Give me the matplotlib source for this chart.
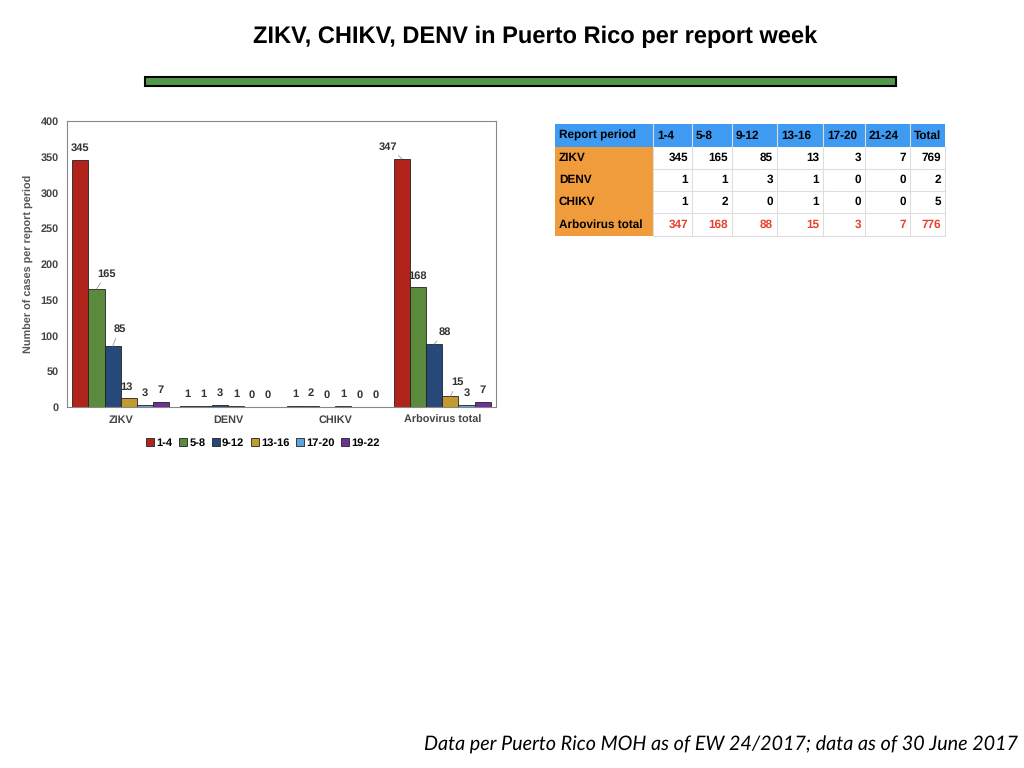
import matplotlib.pyplot as plt
from matplotlib.patches import Rectangle

plt.rcParams['font.family'] = ['Liberation Sans', 'DejaVu Sans']
plt.rcParams['text.hinting'] = 'no_hinting'

categories = ["ZIKV", "DENV", "CHIKV", "Arbovirus total"]
legend_periods = ["1-4", "5-8", "9-12", "13-16", "17-20", "19-22"]
p_1_4 = [345, 1, 1, 347]
p_5_8 = [165, 1, 2, 168]
p_9_12 = [85, 3, 0, 88]
p_13_16 = [13, 1, 1, 15]
p_17_20 = [3, 0, 0, 3]
p_19_22 = [7, 0, 0, 7]
series = [p_1_4, p_5_8, p_9_12, p_13_16, p_17_20, p_19_22]
colors = ["#B0241B", "#5B8A3C", "#27497A", "#C29A2E", "#5BA5DA", "#6E3096"]

table_periods = ["1-4", "5-8", "9-12", "13-16", "17-20", "21-24"]
table_rows = ["ZIKV", "DENV", "CHIKV", "Arbovirus total"]
table_totals = [769, 2, 5, 776]

# label offsets (pixels) and leader-line flags, keyed by (group, series)
label_offsets = {
    (0, 1): (10, 15, True), (0, 2): (7, 17, True), (0, 3): (-2, 11, False),
    (3, 0): (-14, 12, True), (3, 1): (-1, 11, False), (3, 2): (10, 12, True),
    (3, 3): (7, 14, True),
}

fig = plt.figure(figsize=(10.24, 7.68), dpi=100)
ax = fig.add_axes([67/1024, 1-407/768, 429/1024, 286/768])

w = 0.15
for i, vals in enumerate(series):
    xs = [g + (i - 2.5) * w for g in range(len(categories))]
    ax.bar(xs, vals, width=w, color=colors[i], edgecolor="#222222", linewidth=0.6,
           label=legend_periods[i])
    for g, (x, v) in enumerate(zip(xs, vals)):
        dx, dy, lead = label_offsets.get((g, i), (0, 12, False))
        arrow = dict(arrowstyle='-', color='#999999', lw=0.6, shrinkA=1, shrinkB=0) if lead else None
        ax.annotate(str(v), xy=(x, v), xytext=(dx, dy), textcoords='offset pixels',
                    ha='center', va='center', fontsize=8, fontweight='bold',
                    color='#333333', arrowprops=arrow)

ax.set_xlim(-0.5, 3.5)
ax.set_ylim(0, 400)
ax.set_yticks(range(0, 401, 50))
ax.set_xticks(range(len(categories)))
ax.set_xticklabels(categories)
ax.tick_params(length=0, labelsize=7.8, labelcolor='#444444', pad=6)
for lab in ax.get_xticklabels() + ax.get_yticklabels():
    lab.set_fontweight('bold')
ax.set_ylabel("Number of cases per report period", fontsize=7.8, fontweight='bold', color='#555555', labelpad=5)
for s in ax.spines.values():
    s.set_color('#888888')
    s.set_linewidth(0.8)

fig.legend(loc='center', bbox_to_anchor=(263/1024, 1-443/768), ncol=6, frameon=False,
           handlelength=0.7, handleheight=0.7, handletextpad=0.2,
           columnspacing=0.6, prop={'weight': 'bold', 'size': 8})

# overlay in pixel coordinates for title, bar, table, footer
ov = fig.add_axes([0, 0, 1, 1])
ov.set_xlim(0, 1024)
ov.set_ylim(768, 0)
ov.axis('off')
ov.patch.set_alpha(0)

ov.text(535, 37, "ZIKV, CHIKV, DENV in Puerto Rico per report week", ha='center', va='center',
        fontsize=17, fontweight='bold', color='black')
ov.add_patch(Rectangle((145, 77), 751, 9, facecolor='#519A4A', edgecolor='black', linewidth=1.5))

# table
col_edges = [555, 653, 692, 732, 777, 823, 865, 910, 945]
row_edges = [124, 147, 169, 191, 213, 236]
header = ["Report period"] + table_periods + ["Total"]
ov.add_patch(Rectangle((col_edges[0], row_edges[0]), col_edges[-1]-col_edges[0],
                       row_edges[1]-row_edges[0], facecolor='#3F9BF2', edgecolor='none'))
ov.add_patch(Rectangle((col_edges[0], row_edges[1]), col_edges[1]-col_edges[0],
                       row_edges[-1]-row_edges[1], facecolor='#F09C3C', edgecolor='none'))
for c in range(1, len(col_edges) - 1):
    ov.plot([col_edges[c]]*2, [row_edges[0], row_edges[-1]], color='#dddddd', lw=0.8)
for r in range(2, len(row_edges) - 1):
    ov.plot([col_edges[1], col_edges[-1]], [row_edges[r]]*2, color='#dddddd', lw=0.8)
ov.plot([col_edges[1], col_edges[-1]], [row_edges[-1]]*2, color='#dddddd', lw=0.8)
ov.plot([col_edges[-1]]*2, [row_edges[1], row_edges[-1]], color='#dddddd', lw=0.8)

for c, h in enumerate(header):
    ov.text(col_edges[c] + 4, (row_edges[0] + row_edges[1]) / 2, h, ha='left', va='center',
            fontsize=8.5, fontweight='bold', color='black')
table_data = [[p[r] for p in series] + [table_totals[r]] for r in range(len(table_rows))]
for r, name in enumerate(table_rows):
    yc = (row_edges[r+1] + row_edges[r+2]) / 2
    ov.text(col_edges[0] + 4, yc, name, ha='left', va='center', fontsize=8.5,
            fontweight='bold', color='black')
    tc = '#E5432F' if r == len(table_rows) - 1 else 'black'
    for c, v in enumerate(table_data[r]):
        ov.text(col_edges[c+2] - 4, yc, str(v), ha='right', va='center', fontsize=8.5,
                fontweight='bold', color=tc)

ov.text(1018, 745, "Data per Puerto Rico MOH as of EW 24/2017; data as of 30 June 2017",
        ha='right', va='center', fontsize=14.2, style='italic', family=['Lato', 'DejaVu Sans'])

fig.savefig("out.png", dpi=100)
